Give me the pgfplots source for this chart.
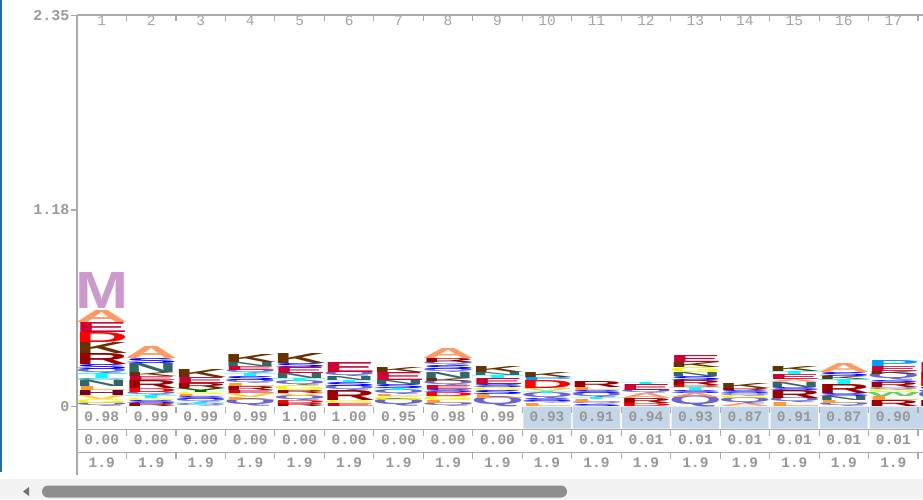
\documentclass[border=0pt]{standalone}
\usepackage{fontspec}
\setmonofont{Liberation Mono}
\newfontfamily\logofont{Liberation Sans}
\usepackage{pgfplots}
\usepackage{pgfplotstable}
\pgfplotsset{compat=1.18}
% amino-acid colours (HMM logo scheme)
\definecolor{aaA}{HTML}{FF9966}\definecolor{aaC}{HTML}{009999}
\definecolor{aaD}{HTML}{FF0000}\definecolor{aaE}{HTML}{CC0033}
\definecolor{aaF}{HTML}{00FF00}\definecolor{aaG}{HTML}{F2F20C}
\definecolor{aaH}{HTML}{660033}\definecolor{aaI}{HTML}{CC9933}
\definecolor{aaK}{HTML}{663300}\definecolor{aaL}{HTML}{FF9933}
\definecolor{aaM}{HTML}{CC99CC}\definecolor{aaN}{HTML}{336666}
\definecolor{aaP}{HTML}{0099FF}\definecolor{aaQ}{HTML}{6666CC}
\definecolor{aaR}{HTML}{990000}\definecolor{aaS}{HTML}{0000FF}
\definecolor{aaT}{HTML}{00FFFF}\definecolor{aaV}{HTML}{FFCC33}
\definecolor{aaW}{HTML}{66CC66}\definecolor{aaY}{HTML}{006600}
\definecolor{axgray}{HTML}{AAAAAA}
\definecolor{tabgray}{HTML}{979797}
\definecolor{numgray}{HTML}{A4A4A4}
\definecolor{ylabgray}{HTML}{9A9A9A}
\definecolor{hlblue}{HTML}{C4D7E8}
\definecolor{edgeblue}{HTML}{2B6A9E}
\definecolor{thumbgray}{HTML}{8E8E8E}
\definecolor{bggray}{HTML}{F2F2F2}

% letter stacks: column, bottom (bits), height (bits), residue
\pgfplotstableread{
x y h l
1 0.000 0.018 Q
1 0.018 0.024 G
1 0.042 0.024 V
1 0.066 0.030 H
1 0.096 0.024 L
1 0.120 0.036 N
1 0.156 0.012 C
1 0.168 0.030 T
1 0.198 0.024 Q
1 0.222 0.030 S
1 0.252 0.066 R
1 0.318 0.066 K
1 0.384 0.060 D
1 0.444 0.060 E
1 0.504 0.072 A
1 0.588 0.216 M
2 0.000 0.018 R
2 0.018 0.018 S
2 0.036 0.012 G
2 0.048 0.018 T
2 0.066 0.018 Q
2 0.084 0.024 D
2 0.108 0.048 R
2 0.156 0.024 E
2 0.180 0.024 K
2 0.204 0.054 N
2 0.258 0.030 S
2 0.288 0.072 A
3 0.000 0.012 Q
3 0.012 0.012 T
3 0.024 0.018 Q
3 0.042 0.018 S
3 0.060 0.012 L
3 0.072 0.012 G
3 0.084 0.024 Y
3 0.108 0.030 R
3 0.138 0.036 E
3 0.174 0.048 K
4 0.000 0.036 Q
4 0.036 0.018 L
4 0.054 0.024 V
4 0.078 0.018 E
4 0.096 0.024 R
4 0.120 0.018 L
4 0.138 0.018 Q
4 0.156 0.024 S
4 0.180 0.018 T
4 0.198 0.018 Q
4 0.216 0.024 E
4 0.240 0.024 N
4 0.264 0.048 K
5 0.000 0.018 R
5 0.018 0.018 D
5 0.036 0.024 Q
5 0.060 0.018 V
5 0.078 0.018 R
5 0.096 0.030 G
5 0.126 0.024 Q
5 0.150 0.018 T
5 0.168 0.030 N
5 0.198 0.036 E
5 0.234 0.024 S
5 0.258 0.060 K
6 0.000 0.018 E
6 0.018 0.018 G
6 0.036 0.060 R
6 0.096 0.024 Q
6 0.120 0.024 S
6 0.144 0.012 T
6 0.156 0.024 N
6 0.180 0.024 Q
6 0.204 0.060 E
7 0.000 0.036 Q
7 0.036 0.024 G
7 0.060 0.012 L
7 0.072 0.024 Q
7 0.096 0.012 T
7 0.108 0.024 S
7 0.132 0.024 N
7 0.156 0.048 E
7 0.204 0.030 K
8 0.000 0.018 Q
8 0.018 0.018 L
8 0.036 0.024 G
8 0.060 0.024 D
8 0.084 0.018 S
8 0.102 0.024 E
8 0.126 0.024 Q
8 0.150 0.018 K
8 0.168 0.036 N
8 0.204 0.018 Q
8 0.222 0.024 S
8 0.246 0.018 Q
8 0.264 0.024 R
8 0.288 0.060 A
9 0.000 0.048 Q
9 0.048 0.024 L
9 0.072 0.024 S
9 0.096 0.018 G
9 0.114 0.018 S
9 0.132 0.036 E
9 0.168 0.018 T
9 0.186 0.018 N
9 0.204 0.036 K
10 0.000 0.018 L
10 0.018 0.012 Q
10 0.030 0.018 S
10 0.048 0.030 Q
10 0.078 0.012 T
10 0.090 0.018 V
10 0.108 0.048 D
10 0.156 0.018 P
10 0.174 0.030 K
11 0.000 0.012 S
11 0.012 0.012 Q
11 0.024 0.018 L
11 0.042 0.012 T
11 0.054 0.024 Q
11 0.078 0.018 S
11 0.096 0.018 L
11 0.114 0.036 R
12 0.000 0.018 D
12 0.018 0.030 R
12 0.048 0.030 A
12 0.078 0.018 Q
12 0.096 0.036 E
12 0.132 0.012 T
13 0.000 0.054 Q
13 0.054 0.024 A
13 0.078 0.018 S
13 0.096 0.018 T
13 0.114 0.012 D
13 0.126 0.030 R
13 0.156 0.024 S
13 0.180 0.024 N
13 0.204 0.030 G
13 0.234 0.030 K
13 0.264 0.042 E
14 0.000 0.018 A
14 0.018 0.030 Q
14 0.048 0.018 G
14 0.066 0.012 Q
14 0.078 0.018 S
14 0.096 0.012 R
14 0.108 0.030 K
15 0.000 0.024 L
15 0.024 0.024 Q
15 0.048 0.048 R
15 0.096 0.018 S
15 0.114 0.030 N
15 0.144 0.018 A
15 0.162 0.030 E
15 0.192 0.018 T
15 0.210 0.030 K
16 0.000 0.018 Q
16 0.018 0.018 L
16 0.036 0.024 N
16 0.060 0.018 S
16 0.078 0.054 R
16 0.132 0.030 T
16 0.162 0.018 K
16 0.180 0.024 S
16 0.204 0.054 A
17 0.000 0.036 R
17 0.036 0.024 L
17 0.060 0.024 W
17 0.084 0.018 G
17 0.102 0.012 Q
17 0.114 0.030 R
17 0.144 0.012 S
17 0.156 0.036 Q
17 0.192 0.018 K
17 0.210 0.030 E
17 0.240 0.036 P
18 0.000 0.036 R
18 0.036 0.048 Q
18 0.084 0.036 S
18 0.120 0.048 D
18 0.168 0.036 R
18 0.204 0.060 E
}\logodata

% table under the logo: row 1 occupancy, row 2 insert prob., row 3 insert length
\pgfplotstableread{
x y m
1 -0.060 0.98
2 -0.060 0.99
3 -0.060 0.99
4 -0.060 0.99
5 -0.060 1.00
6 -0.060 1.00
7 -0.060 0.95
8 -0.060 0.98
9 -0.060 0.99
10 -0.060 0.93
11 -0.060 0.91
12 -0.060 0.94
13 -0.060 0.93
14 -0.060 0.87
15 -0.060 0.91
16 -0.060 0.87
17 -0.060 0.90
1 -0.198 0.00
2 -0.198 0.00
3 -0.198 0.00
4 -0.198 0.00
5 -0.198 0.00
6 -0.198 0.00
7 -0.198 0.00
8 -0.198 0.00
9 -0.198 0.00
10 -0.198 0.01
11 -0.198 0.01
12 -0.198 0.01
13 -0.198 0.01
14 -0.198 0.01
15 -0.198 0.01
16 -0.198 0.01
17 -0.198 0.01
1 -0.339 1.9
2 -0.339 1.9
3 -0.339 1.9
4 -0.339 1.9
5 -0.339 1.9
6 -0.339 1.9
7 -0.339 1.9
8 -0.339 1.9
9 -0.339 1.9
10 -0.339 1.9
11 -0.339 1.9
12 -0.339 1.9
13 -0.339 1.9
14 -0.339 1.9
15 -0.339 1.9
16 -0.339 1.9
17 -0.339 1.9
}\tabdata

\pgfplotstableread{
x y m
1 2.318 1
2 2.318 2
3 2.318 3
4 2.318 4
5 2.318 5
6 2.318 6
7 2.318 7
8 2.318 8
9 2.318 9
10 2.318 10
11 2.318 11
12 2.318 12
13 2.318 13
14 2.318 14
15 2.318 15
16 2.318 16
17 2.318 17
}\coldata

\begin{document}
\begin{tikzpicture}
\path[use as bounding box] (0pt,0pt) rectangle (923pt,499pt);
\fill[white] (0pt,0pt) rectangle (923pt,499pt);
\fill[bggray] (0pt,0pt) rectangle (923pt,20pt);
\fill[edgeblue] (0pt,27pt) rectangle (2pt,499pt);
\fill[thumbgray, rounded corners=6pt] (42pt,1.5pt) rectangle (567pt,13.5pt);
\fill[thumbgray!80!black] (23pt,7.5pt) -- (29pt,12pt) -- (29pt,3pt) -- cycle;
\begin{axis}[
  at={(77pt,24pt)}, anchor=south west,
  scale only axis, width=846pt, height=459.8pt,
  xmin=0.5, xmax=17.6, ymin=-0.411, ymax=2.35,
  axis x line*=top, axis y line*=left,
  axis line style={draw=axgray, line width=1.6pt},
  xtick=\empty,
  ytick={0,1.18,2.35}, yticklabels={0,1.18,2.35},
  tick align=outside, major tick length=6pt,
  y tick style={draw=axgray, line width=1.2pt},
  yticklabel style={font=\ttfamily\bfseries\fontsize{15}{15}\selectfont, text=ylabgray, inner sep=1.5pt},
  clip=false,
]
% highlighted cells of the first row
\addplot[ybar, bar width=0.96, bar shift=0pt, fill=hlblue, draw=none]
  coordinates {(10,-0.132) (11,-0.132) (12,-0.132) (13,-0.132) (14,-0.132) (15,-0.132) (16,-0.132) (17,-0.132) (17.85,-0.132)};
% table lines and separators
\draw[axgray, line width=1.6pt] (axis cs:0.5,-0.138) -- (axis cs:17.6,-0.138);
\draw[axgray, line width=1.6pt] (axis cs:0.5,-0.276) -- (axis cs:17.6,-0.276);
\pgfplotsinvokeforeach{1.5,2.5,...,17.5}{
  \draw[axgray, line width=1.2pt] (axis cs:#1,2.35) -- ++(0pt,-6pt);
  \draw[axgray, line width=1.2pt] (axis cs:#1,0) -- ++(0pt,-6pt);
  \draw[axgray, line width=1.2pt] (axis cs:#1,-0.138) -- ++(0pt,-6pt);
  \draw[axgray, line width=1.2pt] (axis cs:#1,-0.276) -- ++(0pt,-6pt);
}
% logo letters
\addplot[draw=none, mark=none,
  point meta=explicit symbolic,
  visualization depends on={166.5*\thisrow{h}\as\hpt},
  nodes near coords={\resizebox{53pt}{\hpt pt}{\textcolor{aa\pgfplotspointmeta}{\logofont\bfseries\pgfplotspointmeta}}},
  nodes near coords align={anchor=south},
  every node near coord/.append style={inner sep=0pt, outer sep=0pt},
] table[x=x, y=y, meta=l] {\logodata};
% table values
\addplot[draw=none, mark=none, nodes near coords, point meta=explicit symbolic,
  nodes near coords align={anchor=center},
  every node near coord/.append style={font=\ttfamily\bfseries\fontsize{14.5}{14.5}\selectfont, text=tabgray, inner sep=0pt},
] table[x=x, y=y, meta=m] {\tabdata};
% column numbers
\addplot[draw=none, mark=none, nodes near coords, point meta=explicit symbolic,
  nodes near coords align={anchor=center},
  every node near coord/.append style={font=\ttfamily\fontsize{14.5}{14.5}\selectfont, text=numgray, inner sep=0pt},
] table[x=x, y=y, meta=m] {\coldata};
\end{axis}
\end{tikzpicture}
\end{document}
